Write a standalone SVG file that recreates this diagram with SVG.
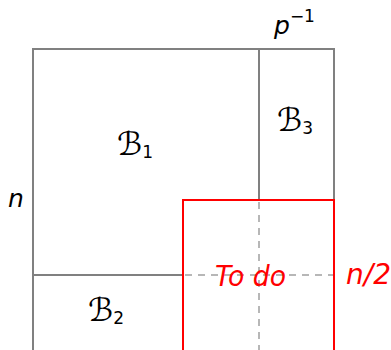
<svg xmlns="http://www.w3.org/2000/svg" width="391" height="350" viewBox="0 0 391 350">
<style>
.g{stroke:#808080;stroke-width:2;fill:none}
.d{stroke:#a0a0a0;stroke-width:1.5;fill:none;stroke-dasharray:7,6}
.r{stroke:#ff0000;stroke-width:2;fill:none}
.t{font-family:"DejaVu Sans","Liberation Sans",sans-serif;font-style:italic;font-size:25px;fill:#000}
.b{font-family:"DejaVu Sans",sans-serif;font-size:32px;fill:#000}
.s{font-family:"DejaVu Sans",sans-serif;font-size:17px;fill:#000}
.red{fill:#ff0000}
</style>
<g id="connectors">
<rect class="g" x="33" y="49" width="301" height="310"/>
<line class="g" x1="259" y1="49" x2="259" y2="200"/>
<line class="g" x1="33" y1="275" x2="183" y2="275"/>
</g>
<g id="todo">
<rect class="r" x="183" y="200" width="151" height="160" fill="#fff"/>
<line class="d" x1="259" y1="202" x2="259" y2="350"/>
<line class="d" x1="185" y1="275" x2="333" y2="275"/>
<text class="t red" x="215" y="286" style="font-size:28px" textLength="71" lengthAdjust="spacingAndGlyphs">To do</text>
</g>
<g id="B1"><text class="b" x="117" y="155">ℬ<tspan class="s" dy="3">1</tspan></text></g>
<g id="B2"><text class="b" x="88" y="321">ℬ<tspan class="s" dy="3">2</tspan></text></g>
<g id="B3"><text class="b" x="277" y="131">ℬ<tspan class="s" dy="3">3</tspan></text></g>
<g id="labels">
<text class="t" x="8" y="207">n</text>
<text class="t" x="274" y="34">p<tspan class="s" style="font-style:normal" dy="-12">−1</tspan></text>
<text class="t red" x="346" y="284" style="font-size:28px">n/2</text>
</g>
</svg>
